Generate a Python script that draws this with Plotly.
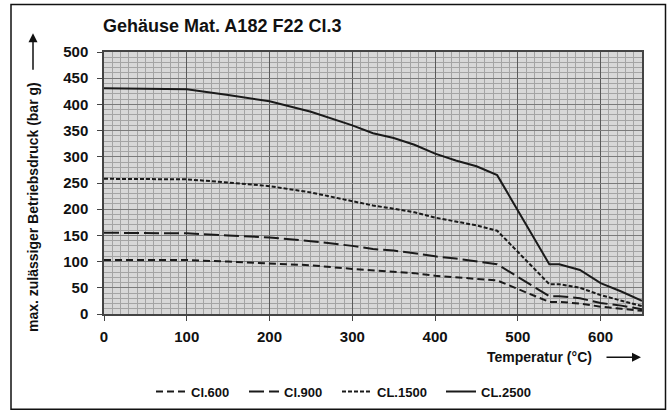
import plotly.graph_objects as go

# Data
temps = [0, 100, 150, 200, 250, 300, 325, 350, 375, 400, 425, 450, 475, 538, 550, 575, 600, 625, 650]
cl600 = [103, 103, 100, 97, 93, 86, 83, 80, 78, 73, 70, 68, 64, 23, 23, 20, 14, 10, 6]
cl900 = [155, 154, 150, 146, 139, 130, 124, 121, 116, 110, 106, 101, 95, 34, 34, 30, 21, 16, 9]
cl1500 = [258, 257, 251, 244, 232, 216, 207, 201, 194, 184, 176, 169, 159, 57, 57, 50, 36, 26, 15]
cl2500 = [431, 429, 418, 406, 386, 360, 345, 336, 323, 306, 293, 282, 265, 95, 95, 84, 59, 43, 25]

names = ["Cl.600", "Cl.900", "CL.1500", "CL.2500"]
dashes = ["7px,4px", "15px,5px", "4px,2px", "solid"]
series = [cl600, cl900, cl1500, cl2500]
legend_ids = ["legend", "legend2", "legend3", "legend4"]
legend_px = [151, 244, 337, 441]

FONT = "Liberation Sans, Arial, sans-serif"

fig = go.Figure()
for n, d, s, lg in zip(names, dashes, series, legend_ids):
    fig.add_trace(go.Scatter(x=temps, y=s, mode="lines", name=n, legend=lg,
                             line=dict(color="#1a1a1a", width=2, dash=d)))

W, H = 667, 418
L, R, T, B = 104, 25, 52, 99
pw, ph = W - L - R, H - T - B

def px_x(p):
    return (p - L) / pw

def px_y(p):
    return (H - B - p) / ph

legend_style = dict(orientation="h", xanchor="left", yanchor="middle",
                    font=dict(size=13, family=FONT, weight="bold", color="#111"),
                    bgcolor="rgba(0,0,0,0)", itemwidth=30)

layout_legends = {}
for lg, lx in zip(legend_ids, legend_px):
    layout_legends[lg] = dict(legend_style, x=px_x(lx), y=px_y(398))

fig.update_layout(
    width=W, height=H,
    margin=dict(l=L, r=R, t=T, b=B, pad=0),
    paper_bgcolor="white",
    plot_bgcolor="#d8d8d8",
    font=dict(family=FONT, color="#111"),
    title=dict(text="Gehäuse Mat. A182 F22 Cl.3", x=103 / W, xanchor="left",
               y=1 - 25.5 / H, yanchor="middle",
               font=dict(size=18, family=FONT, weight="bold", color="#111")),
    showlegend=True,
    xaxis=dict(range=[0, 650], dtick=100, tick0=0, showgrid=True, gridcolor="#5a5a5a", gridwidth=1,
               minor=dict(dtick=10, showgrid=True, gridcolor="#a4a4a4", gridwidth=1),
               showline=True, linecolor="#444", linewidth=1.5, mirror=True,
               ticks="outside", ticklen=5, tickcolor="#444", ticklabelstandoff=3,
               tickfont=dict(size=15, family=FONT, weight="bold", color="#111"),
               zeroline=False, fixedrange=True),
    yaxis=dict(range=[0, 500], dtick=50, tick0=0, showgrid=True, gridcolor="#7a7a7a", gridwidth=1,
               minor=dict(dtick=10, showgrid=True, gridcolor="#a4a4a4", gridwidth=1),
               showline=True, linecolor="#444", linewidth=1.5, mirror=True,
               ticks="outside", ticklen=5, tickcolor="#444", ticklabelstandoff=6,
               tickfont=dict(size=15, family=FONT, weight="bold", color="#111"),
               zeroline=False, fixedrange=True),
    **layout_legends,
)

# outer frame
fig.add_shape(type="rect", xref="paper", yref="paper",
              x0=px_x(11), x1=px_x(665.5), y0=px_y(416), y1=px_y(3.5),
              line=dict(color="#111", width=1.5), fillcolor="rgba(0,0,0,0)", layer="above")

# y-axis title (rotated) with arrow
fig.add_annotation(xref="paper", yref="paper", x=px_x(33), y=px_y(210),
                   text="max. zulässiger Betriebsdruck (bar g)", textangle=-90, showarrow=False,
                   font=dict(size=14, family=FONT, weight="bold", color="#111"),
                   xanchor="center", yanchor="middle")
fig.add_annotation(xref="paper", yref="paper", axref="pixel", ayref="pixel",
                   x=px_x(33), y=px_y(33), ax=0, ay=38,
                   text="", showarrow=True, arrowhead=2, arrowsize=1.2, arrowwidth=1.5,
                   arrowcolor="#111")

# x-axis title with arrow
fig.add_annotation(xref="paper", yref="paper", x=px_x(539), y=px_y(363),
                   text="Temperatur (°C)", showarrow=False,
                   font=dict(size=14, family=FONT, weight="bold", color="#111"),
                   xanchor="center", yanchor="middle")
fig.add_annotation(xref="paper", yref="paper", axref="pixel", ayref="pixel",
                   x=px_x(641), y=px_y(363), ax=-36, ay=0,
                   text="", showarrow=True, arrowhead=2, arrowsize=1.2, arrowwidth=1.5,
                   arrowcolor="#111")

fig.write_html("out.html")
